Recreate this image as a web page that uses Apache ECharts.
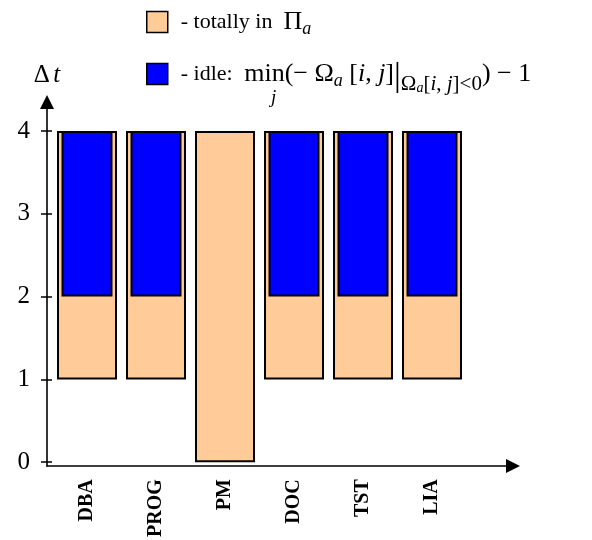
<!DOCTYPE html>
<html>
<head>
<meta charset="utf-8">
<script src="https://cdn.jsdelivr.net/npm/echarts@6/dist/echarts.min.js"></script>
<style>
  html, body { margin: 0; padding: 0; background: #fff; }
  #chart { width: 592px; height: 540px; }
</style>
</head>
<body>
<div id="chart"></div>
<script>
// Roles on the horizontal axis
const categories = ['DBA', 'PROG', 'PM', 'DOC', 'TST', 'LIA'];
// Interval spent totally inside Π_a (start / end, in Δt units)
const totalStart = [1, 1, 0, 1, 1, 1];
const totalEnd = [4, 4, 4, 4, 4, 4];
// Idle interval (start / end); PM has none
const idleStart = [2, 2, null, 2, 2, 2];
const idleEnd = [4, 4, null, 4, 4, 4];
// Value axis ticks
const yTicks = [0, 1, 2, 3, 4];

const SERIF = 'Liberation Serif';
const PEACH = '#FFCC99';
const BLUE = '#0000FF';

const totalLen = totalEnd.map((e, i) => e - totalStart[i]);
const idleBase = idleStart.map(v => (v == null ? '-' : v));
const idleLen = idleEnd.map((e, i) => (e == null ? '-' : e - idleStart[i]));

const chart = echarts.init(document.getElementById('chart'), null, { renderer: 'canvas' });

// Rich-text styles for the legend: plain words, math glyphs, subscripts
const LH = 36;
const mainRich = {
  g: { width: 8 },
  sp: { width: 5 },
  w: { fontFamily: SERIF, fontSize: 22, lineHeight: LH, color: '#000' },
  r: { fontFamily: SERIF, fontSize: 26, lineHeight: LH, color: '#000' },
  it: { fontFamily: SERIF, fontSize: 26, lineHeight: LH, fontStyle: 'italic', color: '#000' },
  s: { fontFamily: SERIF, fontSize: 18, lineHeight: LH, fontStyle: 'italic', color: '#000', padding: [14, 0, 0, 0] },
  bar: { fontFamily: SERIF, fontSize: 34, lineHeight: LH, color: '#000', padding: [6, 0, 0, 0] },
  ss: { fontFamily: SERIF, fontSize: 21, lineHeight: LH, color: '#000', padding: [20, 0, 0, 0] },
  si: { fontFamily: SERIF, fontSize: 21, lineHeight: LH, fontStyle: 'italic', color: '#000', padding: [20, 0, 0, 0] },
  sss: { fontFamily: SERIF, fontSize: 14, lineHeight: LH, fontStyle: 'italic', color: '#000', padding: [28, 0, 0, 0] }
};

const legendText = {
  fontFamily: SERIF, fontSize: 22, lineHeight: LH, color: '#000', rich: mainRich
};

const option = {
  animation: false,
  backgroundColor: '#fff',
  legend: [
    {
      data: ['totally'],
      left: 146, top: 4, padding: 0,
      icon: 'rect', itemWidth: 21, itemHeight: 21,
      selectedMode: false,
      itemStyle: { borderColor: '#000', borderWidth: 1.5 },
      textStyle: legendText,
      formatter: () => '{g| }{w|- totally in  }{r|Π}{s|a}'
    },
    {
      data: ['idle'],
      left: 146, top: 53, padding: 0,
      icon: 'rect', itemWidth: 21, itemHeight: 21,
      selectedMode: false,
      itemStyle: { borderColor: '#000', borderWidth: 1.5 },
      textStyle: legendText,
      formatter: () =>
        '{g| }{w|- idle:}{sp| }{r| min(− Ω}{s|a}{r| [}{it|i}{r|, }{it|j}{r|]}{bar||}' +
        '{ss|Ω}{sss|a}{ss|[}{si|i}{ss|, }{si|j}{ss|]<0}{r|) − 1}'
    }
  ],
  graphic: [
    {
      type: 'text', left: 271, top: 88, silent: true,
      style: { text: 'j', font: 'italic 19px "Liberation Serif"', fill: '#000' }
    }
  ],
  grid: [
    { left: 52.5, width: 414, top: 131, bottom: 74 },
    { left: 47, right: 79, top: 102, bottom: 74 }
  ],
  xAxis: [
    {
      type: 'category', gridIndex: 0, data: categories,
      axisLine: { show: false }, axisTick: { show: false },
      axisLabel: {
        interval: 0, rotate: 90, margin: 17,
        fontFamily: SERIF, fontSize: 20, fontWeight: 'bold', color: '#000'
      }
    },
    { type: 'category', gridIndex: 0, data: categories, show: false },
    {
      type: 'value', gridIndex: 1, min: 0, max: 1,
      axisLine: { show: true, symbol: ['none', 'triangle'], symbolSize: [14, 14], lineStyle: { color: '#000', width: 1.6 } },
      axisTick: { show: false }, axisLabel: { show: false }, splitLine: { show: false }
    }
  ],
  yAxis: [
    {
      type: 'value', gridIndex: 0, position: 'left',
      min: yTicks[0], max: yTicks[yTicks.length - 1], interval: 1,
      offset: 5.5,
      axisLine: { show: false },
      axisTick: { show: true, length: 6, lineStyle: { color: '#000', width: 1.5 } },
      axisLabel: { margin: 17, fontFamily: SERIF, fontSize: 25, color: '#000' },
      splitLine: { show: false }
    },
    {
      type: 'value', gridIndex: 0, position: 'left',
      min: yTicks[0], max: yTicks[yTicks.length - 1], interval: 1,
      offset: 5.5,
      axisLine: { show: false },
      axisTick: { show: true, inside: true, length: 5, lineStyle: { color: '#000', width: 1.5 } },
      axisLabel: { show: false },
      splitLine: { show: false }
    },
    {
      type: 'value', gridIndex: 1, position: 'left', min: 0, max: 1,
      name: '{d|Δ} {t|t}', nameLocation: 'end', nameGap: 14,
      nameTextStyle: {
        align: 'center',
        rich: {
          d: { fontFamily: SERIF, fontSize: 25, color: '#000' },
          t: { fontFamily: SERIF, fontSize: 25, fontStyle: 'italic', color: '#000' }
        }
      },
      axisLine: { show: true, symbol: ['none', 'triangle'], symbolSize: [14, 14], lineStyle: { color: '#000', width: 1.6 } },
      axisTick: { show: false }, axisLabel: { show: false }, splitLine: { show: false }
    }
  ],
  series: [
    {
      name: 'totalBase', type: 'bar', stack: 'total', xAxisIndex: 0, yAxisIndex: 0,
      barWidth: 60, silent: true,
      itemStyle: { color: 'transparent' },
      data: totalStart
    },
    {
      name: 'totally', type: 'bar', stack: 'total', xAxisIndex: 0, yAxisIndex: 0,
      barWidth: 60,
      itemStyle: { color: PEACH, borderColor: '#000', borderWidth: 2 },
      data: totalLen
    },
    {
      name: 'idleBase', type: 'bar', stack: 'idle', xAxisIndex: 1, yAxisIndex: 0,
      barWidth: 51, silent: true,
      itemStyle: { color: 'transparent' },
      data: idleBase
    },
    {
      name: 'idle', type: 'bar', stack: 'idle', xAxisIndex: 1, yAxisIndex: 0,
      barWidth: 51,
      itemStyle: { color: BLUE, borderColor: '#000', borderWidth: 2 },
      data: idleLen
    }
  ]
};

chart.setOption(option);
</script>
</body>
</html>
